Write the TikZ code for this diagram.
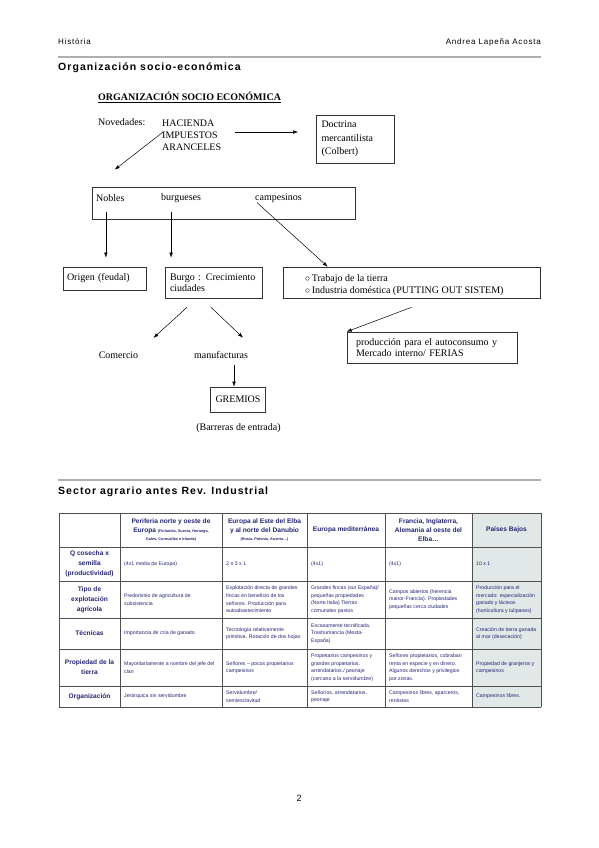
\documentclass[tikz,border=0pt]{standalone}
\usepackage{fontspec}
\setmainfont{Liberation Serif}
\setsansfont{Liberation Sans}
\newfontfamily\hdrfont[LetterSpace=10]{Liberation Sans}
\usetikzlibrary{arrows.meta,positioning}

\definecolor{navy}{RGB}{38,38,118}
\definecolor{paisgris}{RGB}{226,231,231}
\definecolor{rulegris}{RGB}{175,175,175}
\definecolor{tabgris}{RGB}{80,80,80}

\tikzset{
  caja/.style={draw=black!80, line width=0.6pt, inner xsep=5pt, inner ysep=3pt,
    align=left, font=\fontsize{10}{11.5}\selectfont},
  flecha/.style={-{Latex[length=5pt,width=3.5pt]}, line width=0.5pt},
  texto/.style={inner sep=0pt, font=\fontsize{10}{12}\selectfont},
  cabecera/.style={font=\sffamily\bfseries\fontsize{6.6}{8.3}\selectfont, text=navy, align=center},
  filatit/.style={font=\sffamily\bfseries\fontsize{6.6}{10}\selectfont, text=navy, align=center},
  celda/.style={font=\sffamily\fontsize{5.2}{7.6}\selectfont, text=navy, align=left,
    anchor=west, inner sep=0pt},
  tabla/.style={draw=tabgris, line width=0.6pt},
}

\begin{document}
\begin{tikzpicture}[x=1pt,y=-1pt]
    \path[fill=white] (0,0) rectangle (599,848);

    % Capçalera de la pàgina
    \node[anchor=west, inner sep=0pt, font=\hdrfont\fontsize{8}{9}\selectfont] (asig) at (58,42) {Història};
    \node[anchor=east, inner sep=0pt, font=\hdrfont\fontsize{8}{9}\selectfont] (autora) at (541,42) {Andrea Lapeña Acosta};
    \draw[rulegris, line width=1.2pt] (58,57) -- (541,57);
    \node[anchor=west, inner sep=0pt, font=\hdrfont\bfseries\fontsize{10.5}{12}\selectfont] (sec1) at (58,68) {Organización socio-económica};

    % Esquema
    \node[texto, anchor=west] (titulo) at (98,97) {\bfseries\underline{ORGANIZACIÓN SOCIO ECONÓMICA}};
    \node[texto, anchor=west] (novedades) at (98,122) {Novedades:};
    \node[texto, anchor=north west, align=left] (hacienda) at (162,119.5) {HACIENDA\\IMPUESTOS\\ARANCELES};
    \node[caja, text width=68pt, minimum height=48pt, font=\fontsize{10}{13.5}\selectfont] (doctrina) at (355.5,139) {Doctrina\\mercantilista\\(Colbert)};
    \draw[flecha] ([xshift=14pt,yshift=3pt]hacienda.east) -- ([xshift=-18pt,yshift=3pt]hacienda.east -| doctrina.west);

    \node[caja, minimum width=263pt, minimum height=32pt] (clases) at (223.5,203) {};
    \node[texto, anchor=west] (nobles) at (96,198) {Nobles};
    \node[texto, anchor=west] (burgueses) at (161,198) {burgueses};
    \node[texto, anchor=west] (campesinos) at (255,198) {campesinos};
    \draw[flecha] ([xshift=1pt,yshift=3pt]hacienda.west) -- ([xshift=23pt,yshift=17pt]clases.north west);

    \node[caja, text width=75pt, inner xsep=4pt, minimum height=23pt] (origen) at (104.5,278.5) {Origen (feudal)};
    \node[caja, text width=87pt, minimum height=31pt] (burgo) at (213.5,282.5) {Burgo : Crecimiento\\ciudades};
    \node[caja, minimum width=257pt, minimum height=31pt] (trabajo) at (411.5,282.5) {};
    \node[texto, anchor=west, align=left, font=\fontsize{10}{11.5}\selectfont] (trabajotxt) at (305,285) {$\circ$\,Trabajo de la tierra\\$\circ$\,Industria doméstica (PUTTING OUT SISTEM)};

    \draw[flecha] ([xshift=-4.5pt,yshift=-10.5pt]nobles.south) -- ([xshift=-4.5pt,yshift=9pt]nobles.south |- origen.north);
    \draw[flecha] ([xshift=-10pt,yshift=-9.5pt]burgueses.south) -- ([xshift=-10pt,yshift=9pt]burgueses.south |- burgo.north);
    \draw[flecha] ([xshift=2pt]campesinos.south west) -- ([xshift=45pt]trabajo.north west);

    \node[texto] (comercio) at (118.5,355) {Comercio};
    \node[texto] (manufacturas) at (221,355) {manufacturas};
    \node[caja, minimum width=54pt, minimum height=25pt, align=center] (gremios) at (238,399.5) {GREMIOS};
    \node[texto] (barreras) at (238.5,428) {(Barreras de entrada)};
    \node[caja, text width=152pt, inner xsep=9pt, minimum height=31pt] (produccion) at (432,347.5) {producción para el autoconsumo y\\Mercado interno/ FERIAS};

    \draw[flecha] ([xshift=-26.5pt,yshift=-9pt]burgo.south) -- ([xshift=15pt,yshift=13.5pt]comercio.north east);
    \draw[flecha] ([xshift=-2.5pt,yshift=-9pt]burgo.south) -- ([xshift=22pt,yshift=13.5pt]manufacturas.north);
    \draw[flecha] ([xshift=-4pt,yshift=-6.5pt]gremios.north |- manufacturas.south) -- ([xshift=-4pt]gremios.north);
    \draw[flecha] ([yshift=-9pt]trabajo.south) -- (produccion.north west);

    % Segona secció: taula
    \draw[rulegris, line width=1.2pt] (58,480) -- (541,480);
    \node[anchor=west, inner sep=0pt, font=\hdrfont\bfseries\fontsize{10.5}{12}\selectfont] (sec2) at (58,492) {Sector agrario antes Rev. Industrial};

    \fill[paisgris] (472,513) rectangle (541,707);
    \foreach \x in {59,120,222,307,385,472,541}
        \draw[tabla] (\x,513) -- (\x,707);
    \foreach \y in {513,547,581,618,649,686,707}
        \draw[tabla] (59,\y) -- (541,\y);

    \node[cabecera] (h1) at (171,530) {Periferia norte y oeste de\\Europa {\fontsize{3.8}{5}\selectfont(Finlandia, Suecia, Noruega,}\\{\fontsize{3.8}{5}\selectfont Gales, Cornualles e Irlanda)}};
    \node[cabecera] (h2) at (264.5,530) {Europa al Este del Elba\\y al norte del Danubio\\{\fontsize{3.8}{5}\selectfont(Rusia, Polonia, Austria…)}};
    \node[cabecera] (h3) at (346,530) {Europa mediterránea};
    \node[cabecera, font=\sffamily\bfseries\fontsize{6.6}{9}\selectfont] (h4) at (428.5,530) {Francia, Inglaterra,\\Alemania al oeste del\\Elba…};
    \node[cabecera] (h5) at (506.5,530) {Países Bajos};

    \node[filatit] (f1) at (89.5,564) {Q cosecha x\\semilla\\(productividad)};
    \node[filatit] (f2) at (89.5,599.5) {Tipo de\\explotación\\agrícola};
    \node[filatit] (f3) at (89.5,633.5) {Técnicas};
    \node[filatit] (f4) at (89.5,667.5) {Propiedad de la\\tierra};
    \node[filatit] (f5) at (89.5,696.5) {Organización};

    % fila 1
    \node[celda] (c11) at (124,564) {(4x1 media de Europa)};
    \node[celda] (c12) at (226,564) {2 o 3 x 1};
    \node[celda] (c13) at (311,564) {(4x1)};
    \node[celda] (c14) at (389,564) {(4x1)};
    \node[celda] (c15) at (476,564) {10 x 1};
    % fila 2
    \node[celda] (c21) at (124,599.5) {Predominio de agricultura de\\subsistencia};
    \node[celda] (c22) at (226,599.5) {Explotación directa de grandes\\fincas en beneficio de los\\señores. Producción para\\autoabastecimiento};
    \node[celda] (c23) at (311,599.5) {Grandes fincas (sur España)/\\pequeñas propiedades\\(Norte Italia) Tierras\\comunales pastos};
    \node[celda] (c24) at (389,599.5) {Campos abiertos (herencia\\manor-Francia). Propiedades\\pequeñas cerca ciudades};
    \node[celda] (c25) at (476,599.5) {Producción para el\\mercado: especialización\\ganado y lácteos\\(horticultura y tulipanes)};
    % fila 3
    \node[celda] (c31) at (124,633.5) {Importancia de cría de ganado};
    \node[celda] (c32) at (226,633.5) {Tecnología relativamente\\primitiva. Rotación de dos hojas};
    \node[celda] (c33) at (311,633.5) {Escasamente tecnificada.\\Trashumancia (Mesta-\\España)};
    \node[celda] (c35) at (476,633.5) {Creación de tierra ganada\\al mar (desecación)};
    % fila 4
    \node[celda] (c41) at (124,667.5) {Mayoritariamente a nombre del jefe del\\clan};
    \node[celda] (c42) at (226,667.5) {Señores – pocos propietarios\\campesinos};
    \node[celda] (c43) at (311,667.5) {Propietarios campesinos y\\grandes propietarios.\\arrendatarios./ peonaje\\(cercano a la servidumbre)};
    \node[celda] (c44) at (389,667.5) {Señores propietarios, cobraban\\renta en especie y en dinero.\\Algunos derechos y privilegios\\por zonas.};
    \node[celda] (c45) at (476,667.5) {Propiedad de granjeros y\\campesinos};
    % fila 5
    \node[celda] (c51) at (124,696.5) {Jerárquica sin servidumbre};
    \node[celda] (c52) at (226,696.5) {Servidumbre/\\semiesclavitud};
    \node[celda] (c53) at (311,696.5) {Señoríos, arrendatarios,\\peonaje};
    \node[celda] (c54) at (389,696.5) {Campesinos libres, aparceros,\\rentistas};
    \node[celda] (c55) at (476,696.5) {Campesinos libres.};

    \node[font=\sffamily\fontsize{9}{10}\selectfont] (pagina) at (299,798) {2};
\end{tikzpicture}
\end{document}
